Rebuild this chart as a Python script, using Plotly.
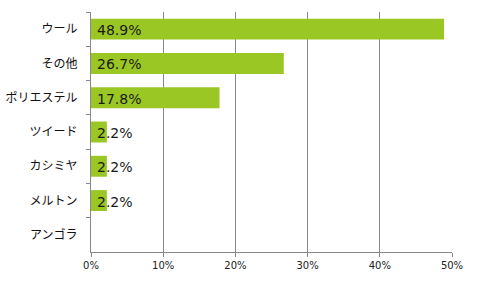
import plotly.graph_objects as go

categories = ["ウール", "その他", "ポリエステル", "ツイード", "カシミヤ", "メルトン", "アンゴラ"]
values = [48.9, 26.7, 17.8, 2.2, 2.2, 2.2, 0.0]
labels = ["48.9%", "26.7%", "17.8%", "2.2%", "2.2%", "2.2%", ""]
x_ticks = [0, 10, 20, 30, 40, 50]
x_tick_labels = ["0%", "10%", "20%", "30%", "40%", "50%"]

grid = "#888888"

fig = go.Figure()
fig.add_trace(go.Bar(
    y=categories, x=values, orientation="h",
    marker=dict(color="#9BC724", line=dict(width=0)),
    width=0.61, hoverinfo="skip",
))
for cat, lab in zip(categories, labels):
    if lab:
        fig.add_annotation(
            x=0, y=cat, text=lab, showarrow=False,
            xanchor="left", yanchor="middle", xshift=4, yshift=-1,
            font=dict(family="DejaVu Sans", size=14, color="#1a1a1a"),
        )
fig.update_layout(
    width=479, height=285,
    margin=dict(l=91, r=27, t=12, b=33),
    paper_bgcolor="white", plot_bgcolor="white",
    showlegend=False,
    xaxis=dict(
        range=[0, 50], tickvals=x_ticks, ticktext=x_tick_labels,
        showgrid=True, gridcolor=grid, gridwidth=1,
        zeroline=False, showline=True, linecolor=grid, linewidth=1,
        ticks="outside", ticklen=4, tickcolor=grid,
        tickfont=dict(family="DejaVu Sans", size=10, color="#222"),
        fixedrange=True, automargin=False,
    ),
    yaxis=dict(
        autorange="reversed", type="category",
        showgrid=False, zeroline=False,
        showline=True, linecolor=grid, linewidth=1,
        ticks="outside", ticklen=4, tickcolor=grid, tickson="boundaries",
        ticklabelstandoff=10,
        tickfont=dict(family="Noto Sans CJK JP", size=12, color="#111"),
        fixedrange=True, automargin=False,
    ),
)
fig.write_html("out.html")
